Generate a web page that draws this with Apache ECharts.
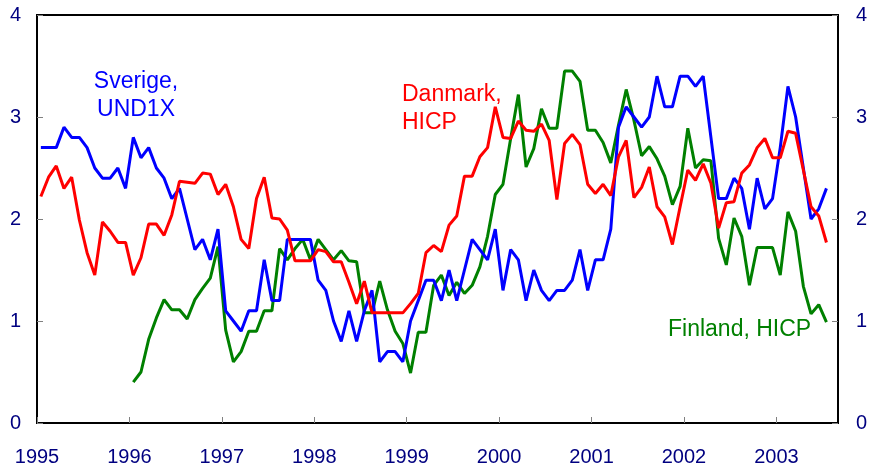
<!DOCTYPE html>
<html>
<head>
<meta charset="utf-8">
<script src="https://cdn.jsdelivr.net/npm/echarts@6/dist/echarts.min.js"></script>
<style>
  html, body { margin: 0; padding: 0; background: #fff; }
  #chart { width: 873px; height: 470px; }
</style>
</head>
<body>
<div id="chart"></div>
<script>
// monthly data, first value = Jan 1995
var startYear = 1995;
var yearTicks = [1995, 1996, 1997, 1998, 1999, 2000, 2001, 2002, 2003];

var sverige = [
  2.7, 2.7, 2.7, 2.9, 2.8, 2.8, 2.7, 2.5, 2.4, 2.4, 2.5, 2.3,
  2.8, 2.6, 2.7, 2.5, 2.4, 2.2, 2.3, 2.0, 1.7, 1.8, 1.6, 1.9,
  1.1, 1.0, 0.9, 1.1, 1.1, 1.6, 1.2, 1.2, 1.8, 1.8, 1.8, 1.8,
  1.4, 1.3, 1.0, 0.8, 1.1, 0.8, 1.1, 1.3, 0.6, 0.7, 0.7, 0.6,
  1.0, 1.2, 1.4, 1.4, 1.2, 1.5, 1.2, 1.5, 1.8, 1.7, 1.6, 1.9,
  1.3, 1.7, 1.6, 1.2, 1.5, 1.3, 1.2, 1.3, 1.3, 1.4, 1.7, 1.3,
  1.6, 1.6, 1.9, 2.9, 3.1, 3.0, 2.9, 3.0, 3.4, 3.1, 3.1, 3.4,
  3.4, 3.3, 3.4, 2.8, 2.2, 2.2, 2.4, 2.3, 1.9, 2.4, 2.1, 2.2,
  2.7, 3.3, 3.0, 2.5, 2.0, 2.1, 2.3
];

var danmark = [
  2.22, 2.41, 2.52, 2.30, 2.41, 1.99, 1.67, 1.45, 1.97, 1.88, 1.77, 1.77,
  1.45, 1.62, 1.95, 1.95, 1.84, 2.04, 2.37, 2.36, 2.35, 2.45, 2.44, 2.24,
  2.34, 2.12, 1.80, 1.71, 2.20, 2.41, 2.01, 2.00, 1.89, 1.59, 1.59, 1.59,
  1.70, 1.68, 1.58, 1.58, 1.38, 1.17, 1.39, 1.08, 1.08, 1.08, 1.08, 1.08,
  1.17, 1.27, 1.67, 1.74, 1.68, 1.94, 2.03, 2.42, 2.42, 2.61, 2.70, 3.10,
  2.80, 2.79, 2.96, 2.87, 2.86, 2.93, 2.77, 2.19, 2.74, 2.83, 2.73, 2.34,
  2.25, 2.34, 2.23, 2.61, 2.77, 2.21, 2.31, 2.51, 2.12, 2.02, 1.75, 2.12,
  2.48, 2.38, 2.54, 2.35, 1.91, 2.16, 2.17, 2.45, 2.53, 2.70, 2.79, 2.60,
  2.60, 2.86, 2.84, 2.48, 2.12, 2.03, 1.77
];

// Finland starts Jan 1996
var finland = [
  null, null, null, null, null, null, null, null, null, null, null, null,
  0.40, 0.50, 0.82, 1.03, 1.21, 1.11, 1.11, 1.02, 1.21, 1.32, 1.42, 1.73,
  0.91, 0.60, 0.70, 0.90, 0.90, 1.10, 1.10, 1.71, 1.60, 1.71, 1.80, 1.60,
  1.80, 1.70, 1.60, 1.69, 1.59, 1.58, 1.08, 1.08, 1.39, 1.11, 0.90, 0.78,
  0.49, 0.89, 0.89, 1.35, 1.45, 1.25, 1.38, 1.27, 1.35, 1.53, 1.83, 2.24,
  2.34, 2.79, 3.22, 2.51, 2.69, 3.08, 2.89, 2.89, 3.45, 3.45, 3.35, 2.87,
  2.87, 2.75, 2.55, 2.92, 3.27, 2.97, 2.62, 2.71, 2.59, 2.42, 2.14, 2.32,
  2.89, 2.50, 2.58, 2.57, 1.81, 1.55, 2.01, 1.83, 1.35, 1.72, 1.72, 1.72,
  1.45, 2.07, 1.88, 1.34, 1.07, 1.16, 0.99
];

// each month plotted at its middle
function toPoints(arr) {
  return arr.map(function (v, i) { return [i + 0.5, v]; });
}

var chart = echarts.init(document.getElementById('chart'));
var navy = '#000080';
var tickStyle = { color: '#808080', width: 1 };

var yAxisBase = {
  type: 'value',
  min: 0,
  max: 4,
  interval: 1,
  axisLine: { show: true, lineStyle: { color: '#000', width: 2 } },
  axisTick: { show: true, inside: true, length: 6, lineStyle: tickStyle },
  splitLine: { show: false },
  axisLabel: {
    color: navy,
    fontSize: 20,
    fontFamily: 'Liberation Sans, Arial, sans-serif',
    margin: 16
  }
};

var option = {
  animation: false,
  backgroundColor: '#fff',
  grid: {
    left: 37,
    right: 35,
    top: 15,
    bottom: 47,
    show: true,
    borderColor: '#000',
    borderWidth: 2
  },
  xAxis: {
    type: 'value',
    min: 0,
    max: 104,
    interval: 12,
    axisLine: { show: true, lineStyle: { color: '#000', width: 2 } },
    axisTick: { show: true, inside: true, length: 6, lineStyle: tickStyle },
    splitLine: { show: false },
    axisLabel: {
      color: navy,
      fontSize: 20,
      fontFamily: 'Liberation Sans, Arial, sans-serif',
      margin: 24,
      showMaxLabel: false,
      formatter: function (v) {
        var y = startYear + v / 12;
        return yearTicks.indexOf(y) >= 0 ? String(y) : '';
      }
    }
  },
  yAxis: [
    Object.assign({}, yAxisBase, { position: 'left' }),
    Object.assign({}, yAxisBase, { position: 'right', axisLabel: Object.assign({}, yAxisBase.axisLabel, { margin: 18 }) })
  ],
  series: [
    {
      name: 'Sverige, UND1X',
      type: 'line',
      data: toPoints(sverige),
      showSymbol: false,
      lineStyle: { color: '#0000ff', width: 3 },
      z: 3
    },
    {
      name: 'Danmark, HICP',
      type: 'line',
      data: toPoints(danmark),
      showSymbol: false,
      lineStyle: { color: '#ff0000', width: 3 },
      z: 4
    },
    {
      name: 'Finland, HICP',
      type: 'line',
      data: toPoints(finland),
      showSymbol: false,
      connectNulls: false,
      lineStyle: { color: '#008000', width: 3 },
      z: 2
    }
  ],
  graphic: [
    { type: 'text', left: 'auto', x: 136, y: 81.5, style: { text: 'Sverige,', fill: '#0000ff', font: '23px "Liberation Sans", Arial, sans-serif', textAlign: 'center', textVerticalAlign: 'middle' } },
    { type: 'text', x: 136, y: 109.5, style: { text: 'UND1X', fill: '#0000ff', font: '23px "Liberation Sans", Arial, sans-serif', textAlign: 'center', textVerticalAlign: 'middle' } },
    { type: 'text', x: 402, y: 94.7, style: { text: 'Danmark,', fill: '#ff0000', font: '23px "Liberation Sans", Arial, sans-serif', textAlign: 'left', textVerticalAlign: 'middle' } },
    { type: 'text', x: 402, y: 122.8, style: { text: 'HICP', fill: '#ff0000', font: '23px "Liberation Sans", Arial, sans-serif', textAlign: 'left', textVerticalAlign: 'middle' } },
    { type: 'text', x: 668, y: 330, style: { text: 'Finland, HICP', fill: '#008000', font: '23px "Liberation Sans", Arial, sans-serif', textAlign: 'left', textVerticalAlign: 'middle' } }
  ]
};

chart.setOption(option);
</script>
</body>
</html>
